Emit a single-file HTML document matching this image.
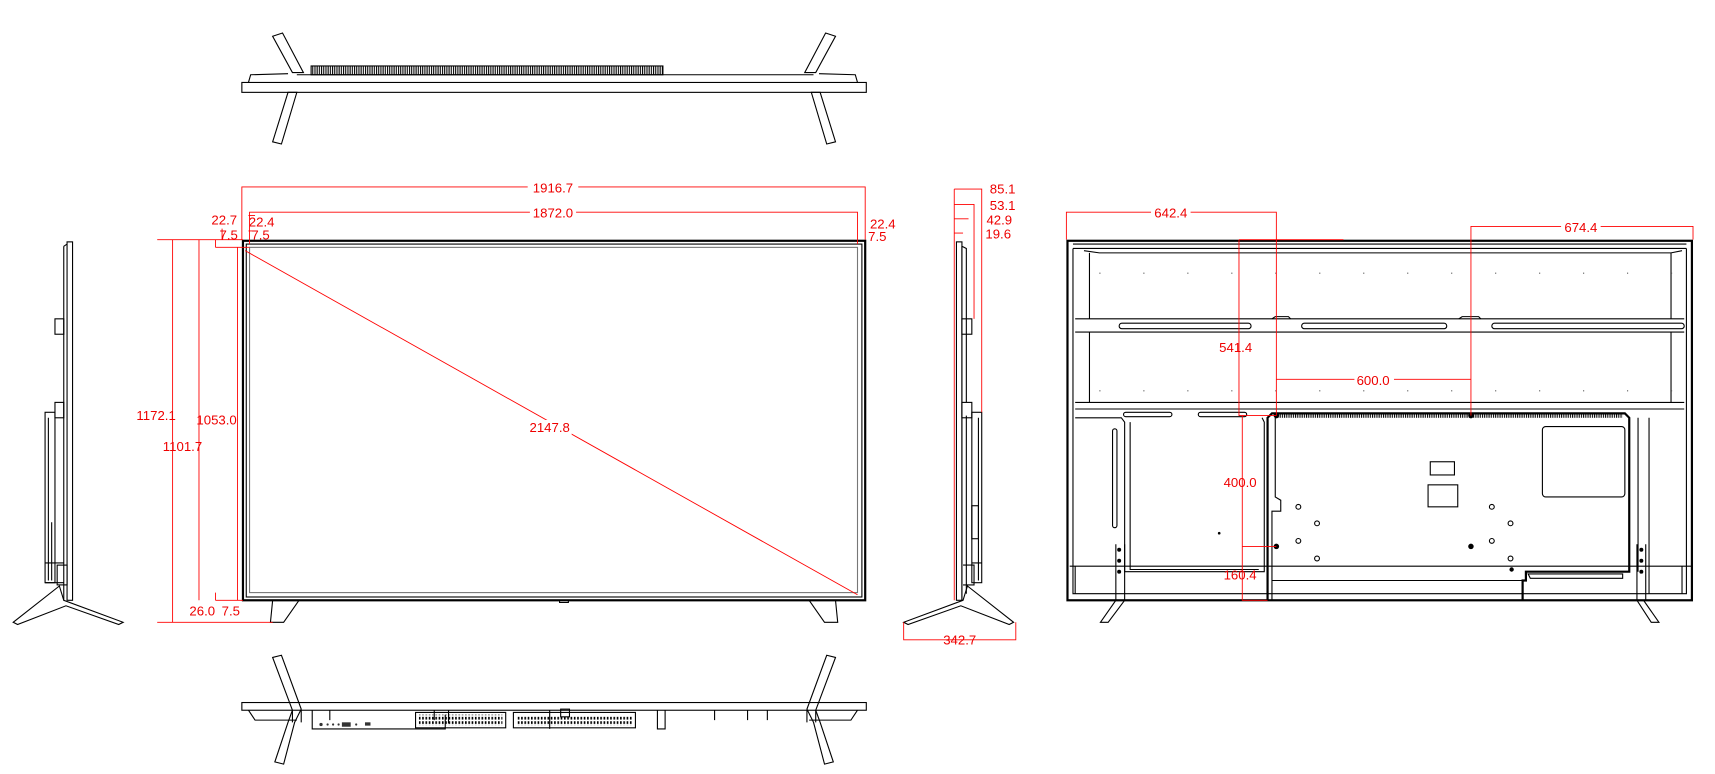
<!DOCTYPE html>
<html><head><meta charset="utf-8"><style>
html,body{margin:0;padding:0;background:#fff;width:1715px;height:774px;overflow:hidden}
svg{display:block}
text{font-family:"Liberation Sans Narrow","Liberation Sans",sans-serif;fill:#e00;font-size:12px;text-anchor:middle}
.k{stroke:#000;fill:none;stroke-width:1}
.kb{stroke:#000;fill:none;stroke-width:2}
.g{stroke:#777;fill:none;stroke-width:1}
.r{stroke:#f00;fill:none;stroke-width:0.8}
</style></head><body>
<svg width="1715" height="774" viewBox="0 0 1560 704" preserveAspectRatio="none" xmlns="http://www.w3.org/2000/svg">
<defs>
<pattern id="hatch" width="2" height="10" patternUnits="userSpaceOnUse"><rect x="0" y="0" width="1" height="10" fill="#000"/></pattern>
<pattern id="grille" width="3" height="4" patternUnits="userSpaceOnUse"><rect x="0" y="0" width="1.5" height="2.5" fill="#000"/></pattern>
</defs>
<!-- TOP VIEW -->
<g>
<rect class="k" x="220" y="75" width="568" height="9"/>
<path class="k" d="M226 75 L228 68 L262 67 M780 75 L778 68 L745 67 M270 68 L740 68"/>
<rect x="283" y="60" width="320" height="8" fill="url(#hatch)" stroke="#000"/>
<path class="k" d="M248 33 L257 30 L276 66 L266 66 Z"/>
<path class="k" d="M262 84 L270 84 L256 131 L248 129 Z"/>
<path class="k" d="M760 33 L751 30 L732 66 L742 66 Z"/>
<path class="k" d="M746 84 L738 84 L752 131 L760 129 Z"/>
</g>
<!-- FRONT VIEW -->
<rect class="kb" x="221" y="219" width="566" height="327"/>
<rect class="k" x="224" y="222" width="560" height="321"/>
<rect class="g" x="227" y="225" width="553" height="314"/>
<path class="k" d="M248 546 L272 546 L258 566 L246 566 Z M760 546 L736 546 L750 566 L762 566 Z M509 546 h8 v2 h-8z"/>
<!-- Front dims -->
<path class="r" d="M220 218 V170 H787 V218 M227 222 V193 H780 V222"/>
<path class="r" d="M143 218 H221 M157 218 V566 M181 218 V546 M216 225 V546 M196 546 H221 M196 539 V546 M143 566 H248 M196 225 H227 M196 218 V225 M202 208 V218 M226 196 H232 M226 210 H230"/>
<path class="r" d="M223 228 L780 541"/>
<rect x="480" y="164" width="46" height="12" fill="#fff"/>
<text x="503" y="175">1916.7</text>
<rect x="482" y="187" width="42" height="12" fill="#fff"/>
<text x="503" y="198">1872.0</text>
<text x="204" y="204">22.7</text><text x="238" y="206">22.4</text>
<text x="208" y="218">7.5</text><text x="237" y="218">7.5</text>
<text x="803" y="208">22.4</text><text x="798" y="219">7.5</text>
<rect x="480" y="382" width="40" height="14" fill="#fff"/>
<text x="500" y="393">2147.8</text>
<text x="142" y="382">1172.1</text>
<text x="197" y="386">1053.0</text>
<text x="166" y="410">1101.7</text>
<text x="184" y="560">26.0</text><text x="210" y="560">7.5</text>
<!-- LEFT SIDE VIEW -->
<g class="k">
<rect x="61" y="220" width="5" height="326"/>
<path d="M58 224 V546 M58 224 L61 222"/>
<rect x="50" y="290" width="8" height="14"/>
<rect x="50" y="366" width="8" height="14"/>
<rect x="41" y="375" width="9" height="155"/>
<path d="M44 380 V528 M47 475 V528 M41 512 H58 M41 530 L58 530"/>
<rect x="52" y="514" width="9" height="18"/>
<path d="M54 533 L58 546 L112 566 L108 568 L60 551 L16 568 L12 566 Z"/>
</g>
<!-- RIGHT SIDE VIEW -->
<g class="k">
<rect x="870" y="220" width="5" height="326"/>
<path d="M875 224 V546 M875 224 L879 226 V366 M879 378 V540"/>
<rect x="875" y="290" width="9" height="14"/>
<rect x="875" y="366" width="9" height="14"/>
<rect x="884" y="375" width="9" height="155"/>
<path d="M890 380 V528 M884 512 H893 M876 514 H886 V532 H876"/>
<rect x="884" y="460" width="6" height="30"/>
<path d="M880 533 L876 546 L822 566 L826 568 L874 551 L918 568 L922 566 Z"/>
</g>
<path class="r" d="M868 172 H893 V375 M868 186 H886 V290 M868 199 H881 M868 212 H876 M868 172 V546 M822 566 V582 H924 V566"/>
<text x="912" y="176">85.1</text><text x="912" y="191">53.1</text>
<text x="909" y="204">42.9</text><text x="908" y="217">19.6</text>
<text x="873" y="586">342.7</text>
<!-- BACK VIEW -->
<g class="k">
<rect class="kb" x="971" y="219" width="568" height="327"/>
<path d="M976 222 H1534 M976 226 H1534 M976 226 V540 H1534 V226"/>
<path d="M986 228 L1000 230 H1520 L1530 228 M991 230 V290 M1520 230 V290"/>
<path d="M978 290 H1532 M978 302 H1532 M978 366 H1532 M978 372 H1532 M991 302 V366 M1520 302 V366"/>
<rect x="1018" y="294" width="120" height="5" rx="2.5"/>
<rect x="1184" y="294" width="132" height="5" rx="2.5"/>
<rect x="1357" y="294" width="175" height="5" rx="2.5"/>
<rect x="1022" y="375" width="44" height="4" rx="2"/>
<rect x="1090" y="375" width="44" height="4" rx="2"/>
<path d="M1157 290 L1160 288 H1172 L1174 290 M1327 290 L1330 288 H1345 L1347 290"/>
<path d="M978 380 H1020 L1023 384 V520 H1150 V384 L1148 380 M1028 384 V518 H1145"/>
<rect x="1012" y="390" width="4" height="90" rx="2"/>
<path class="kb" d="M1153 546 V380 L1157 376 H1478 L1482 380 V520 H1388 V528 H1385 V546"/>
<path d="M1157 546 V465 H1165 V455 L1160 452 V380 M1390 522 H1476 V526 H1392 Z M1157 528 H1385 M1490 380 V520 M1500 380 V540 M1015 495 V546 M1023 495 V546 M1489 495 V546 M1497 495 V546"/>
<rect x="1403" y="388" width="75" height="64" rx="3"/>
<rect x="1301" y="420" width="22" height="12"/>
<rect x="1299" y="441" width="27" height="20"/>
<path d="M973 515 H1540 M978 515 V540 M1530 515 V540"/>
<path d="M1001 566 L1015 546 H1023 L1008 566 Z M1509 566 L1495 546 H1489 L1502 566 Z"/>
</g>
<rect x="1162" y="377" width="314" height="3" fill="url(#hatch)"/>
<g fill="#000">
<circle cx="1161" cy="378" r="2.5"/><circle cx="1338" cy="378" r="2.5"/><circle cx="1161" cy="497" r="2.5"/><circle cx="1338" cy="497" r="2.5"/>
<circle cx="1375" cy="518" r="2"/><circle cx="1109" cy="485" r="1.2"/>
<circle cx="1018" cy="500" r="1.8"/><circle cx="1018" cy="510" r="1.8"/><circle cx="1018" cy="520" r="1.8"/>
<circle cx="1493" cy="500" r="1.8"/><circle cx="1493" cy="510" r="1.8"/><circle cx="1493" cy="520" r="1.8"/>
</g>
<g class="k">
<circle cx="1181" cy="461" r="2.2"/><circle cx="1198" cy="476" r="2.2"/><circle cx="1181" cy="492" r="2.2"/><circle cx="1198" cy="508" r="2.2"/>
<circle cx="1357" cy="461" r="2.2"/><circle cx="1374" cy="476" r="2.2"/><circle cx="1357" cy="492" r="2.2"/><circle cx="1374" cy="508" r="2.2"/>
</g>
<g fill="#555">
<path d="M1000 248h1v1h-1zM1040 248h1v1h-1zM1080 248h1v1h-1zM1120 248h1v1h-1zM1160 248h1v1h-1zM1200 248h1v1h-1zM1240 248h1v1h-1zM1280 248h1v1h-1zM1320 248h1v1h-1zM1360 248h1v1h-1zM1400 248h1v1h-1zM1440 248h1v1h-1zM1480 248h1v1h-1zM1520 248h1v1h-1z"/>
<path d="M1000 355h1v1h-1zM1040 355h1v1h-1zM1080 355h1v1h-1zM1120 355h1v1h-1zM1160 355h1v1h-1zM1200 355h1v1h-1zM1240 355h1v1h-1zM1280 355h1v1h-1zM1320 355h1v1h-1zM1360 355h1v1h-1zM1400 355h1v1h-1zM1440 355h1v1h-1zM1480 355h1v1h-1zM1520 355h1v1h-1z"/>
</g>
<!-- Back dims -->
<path class="r" d="M970 218 V193 H1161 V378 M1338 378 V206 H1540 V218 M1127 218 H1222 M1127 218 V378 H1161 M1161 345 H1338 M1130 378 V546 H1153 M1130 497 H1161"/>
<rect x="1047" y="187" width="36" height="12" fill="#fff"/>
<text x="1065" y="198">642.4</text>
<rect x="1420" y="200" width="36" height="12" fill="#fff"/>
<text x="1438" y="211">674.4</text>
<text x="1124" y="320">541.4</text>
<rect x="1232" y="339" width="36" height="12" fill="#fff"/>
<text x="1249" y="350">600.0</text>
<text x="1128" y="443">400.0</text>
<text x="1128" y="527">160.4</text>
<!-- BOTTOM VIEW -->
<g class="k">
<rect x="220" y="639" width="568" height="7"/>
<path d="M226 646 L232 655 H270 M780 646 L774 655 H736 M284 646 V663 H405 V650 M300 646 V655 M395 646 V655 M408 646 V658 M500 646 V663 M598 646 V663 H605 V646 M650 646 V655 M698 646 V655 M680 646 V655"/>
<rect x="378" y="648" width="82" height="14"/>
<rect x="467" y="648" width="111" height="14"/>
<rect x="510" y="645" width="8" height="7"/>
<path d="M266 646 V657 M274 646 V657 M734 646 V657 M742 646 V657"/>
<path d="M248 598 L256 596 L274 645 L268 657 L258 695 L250 693 L262 657 L266 646 Z"/>
<path d="M760 598 L752 596 L734 645 L740 657 L750 695 L758 693 L746 657 L742 646 Z"/>
</g>
<rect x="381" y="650" width="76" height="10" fill="url(#grille)"/>
<rect x="470" y="651" width="105" height="9" fill="url(#grille)"/>
<g fill="#333">
<circle cx="292" cy="659" r="1.5"/><circle cx="298" cy="659" r="1"/><circle cx="303" cy="659" r="1"/><circle cx="308" cy="659" r="1"/>
<rect x="311" y="657" width="8" height="4"/><circle cx="324" cy="659" r="1"/><rect x="332" y="657" width="5" height="3"/>
</g>
</svg>
</body></html>
